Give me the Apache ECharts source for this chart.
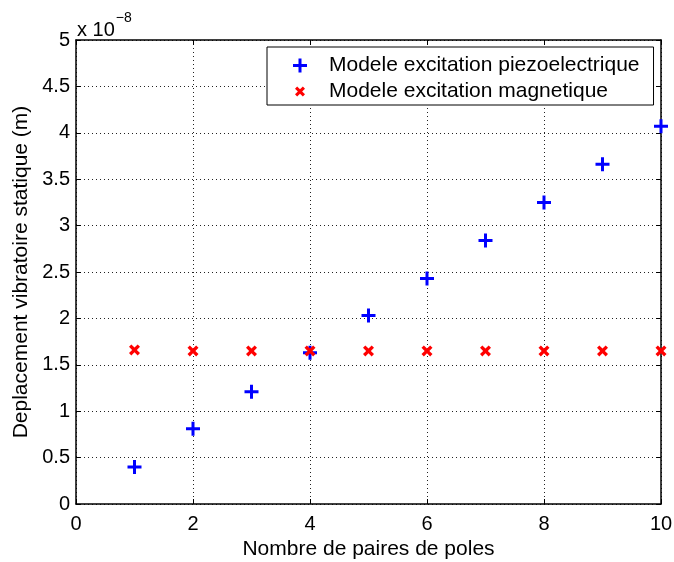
<!DOCTYPE html>
<html>
<head>
<meta charset="utf-8">
<script src="https://cdn.jsdelivr.net/npm/echarts@6/dist/echarts.min.js"></script>
<style>html,body{margin:0;padding:0;background:#fff}#c{width:674px;height:562px}</style>
</head>
<body>
<div id="c"></div>
<script>
// Values in units of 1e-8 m
const poles = [1, 2, 3, 4, 5, 6, 7, 8, 9, 10];
const piezo = [0.40, 0.81, 1.21, 1.63, 2.03, 2.43, 2.84, 3.25, 3.66, 4.07];
const magnetic = [1.66, 1.65, 1.65, 1.65, 1.65, 1.65, 1.65, 1.65, 1.65, 1.65];
const seriesNames = ['Modele excitation piezoelectrique', 'Modele excitation magnetique'];
const xTitle = 'Nombre de paires de poles';
const yTitle = 'Deplacement vibratoire statique (m)';

const FONT = 'Liberation Sans, Arial, Helvetica, sans-serif';
const PLUS = 'path://M5.5,0H8.5V5.5H14V8.5H8.5V14H5.5V8.5H0V5.5H5.5Z';
const CROSS = 'path://M0,3L3,0L7,4L11,0L14,3L10,7L14,11L11,14L7,10L3,14L0,11L4,7Z';
const CROSS_LEGEND = 'path://M-2.8,-2.8M16.8,16.8M0,3L3,0L7,4L11,0L14,3L10,7L14,11L11,14L7,10L3,14L0,11L4,7Z';

const chart = echarts.init(document.getElementById('c'), null, {renderer: 'canvas'});
const gridLine = {show: true, lineStyle: {color: '#222', width: 1, type: [1, 3]}};
const axisLineS = {show: true, onZero: false, lineStyle: {color: '#000', width: 1.5}};
const tickS = {show: true, inside: true, length: 5, lineStyle: {color: '#000', width: 1}};
const labelS = {color: '#000', fontSize: 20, fontFamily: FONT};

chart.setOption({
  animation: false,
  backgroundColor: '#fff',
  grid: {left: 76, right: 13, top: 40, bottom: 58, containLabel: false, outerBoundsMode: 'none'},
  xAxis: [
    {type: 'value', min: 0, max: 10, interval: 2, position: 'bottom',
     axisLine: axisLineS, axisTick: tickS, splitLine: gridLine,
     axisLabel: Object.assign({margin: 10}, labelS),
     name: xTitle, nameLocation: 'middle', nameGap: 33,
     nameTextStyle: {color: '#000', fontSize: 21, fontFamily: FONT}},
    {type: 'value', min: 0, max: 10, interval: 2, position: 'top',
     axisLine: axisLineS, axisTick: tickS, splitLine: {show: false}, axisLabel: {show: false}}
  ],
  yAxis: [
    {type: 'value', min: 0, max: 5, interval: 0.5, position: 'left',
     axisLine: axisLineS, axisTick: tickS, splitLine: gridLine,
     axisLabel: Object.assign({margin: 6}, labelS),
     name: yTitle, nameLocation: 'middle', nameGap: 44,
     nameTextStyle: {color: '#000', fontSize: 21, fontFamily: FONT}},
    {type: 'value', min: 0, max: 5, interval: 0.5, position: 'right',
     axisLine: axisLineS, axisTick: tickS, splitLine: {show: false}, axisLabel: {show: false}}
  ],
  legend: {
    orient: 'vertical', left: 267, top: 47,
    padding: [8, 14, 3, 26], itemGap: 5,
    itemWidth: 48, itemHeight: 14,
    backgroundColor: '#fff', borderColor: '#000', borderWidth: 1, borderRadius: 0,
    textStyle: {color: '#000', fontSize: 21, fontFamily: FONT, lineHeight: 21},
    data: [
      {name: seriesNames[0], icon: PLUS},
      {name: seriesNames[1], icon: CROSS_LEGEND}
    ]
  },
  graphic: [{
    type: 'text', left: 77, top: 11,
    style: {
      text: '{b|x 10}{s|−8}',
      rich: {
        b: {fontSize: 20, fontFamily: FONT, fill: '#000', verticalAlign: 'bottom', padding: [9, 0, 0, 0]},
        s: {fontSize: 14, fontFamily: FONT, fill: '#000', verticalAlign: 'top', padding: [0, 0, 10, 1]}
      }
    }
  }],
  series: [
    {name: seriesNames[0], type: 'scatter', symbol: PLUS, symbolSize: 14,
     itemStyle: {color: '#0000ff', opacity: 1}, z: 3,
     data: poles.map((p, i) => [p, piezo[i]])},
    {name: seriesNames[1], type: 'scatter', symbol: CROSS, symbolSize: 11,
     itemStyle: {color: '#ff0000', opacity: 1}, z: 4,
     data: poles.map((p, i) => [p, magnetic[i]])}
  ]
});
</script>
</body>
</html>
